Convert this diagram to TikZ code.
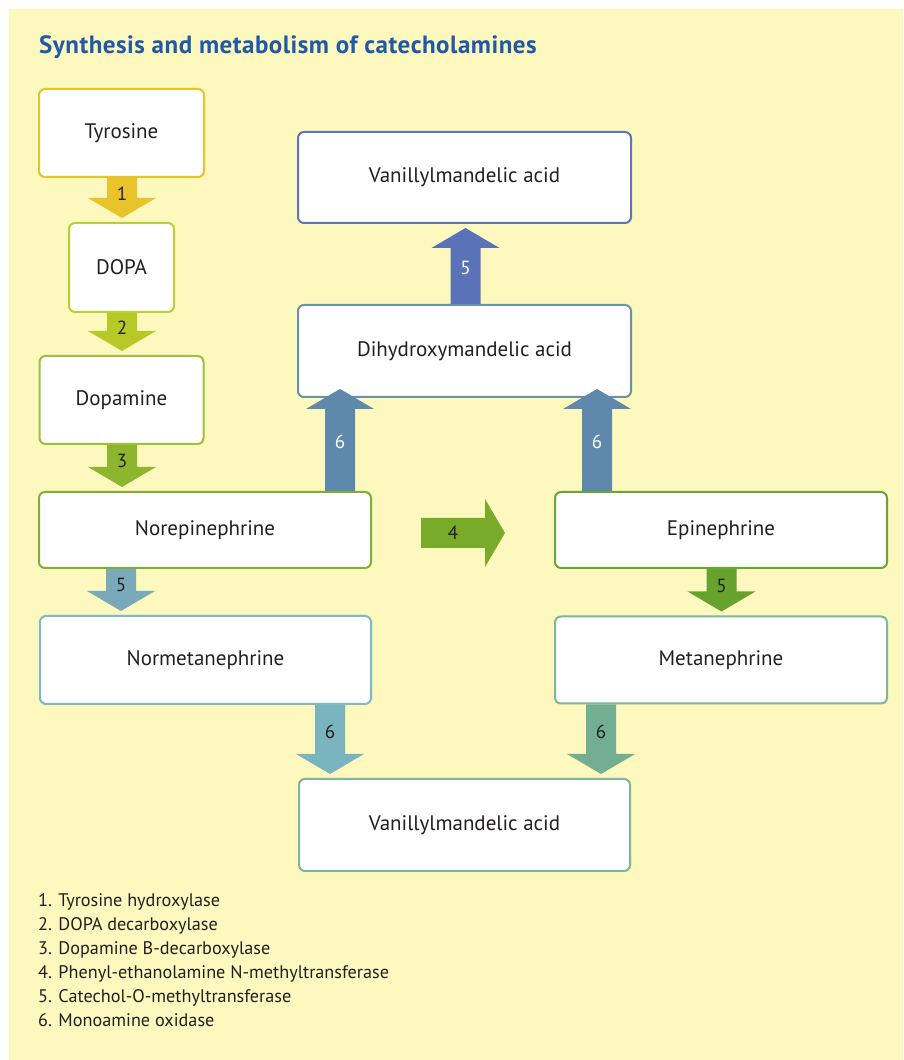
\documentclass[tikz,border=0pt]{standalone}
\usepackage{fontspec}
\setmainfont{PT Sans}
\usetikzlibrary{calc}

\definecolor{paper}{HTML}{FCF8BE}
\definecolor{ink}{HTML}{231F20}
\definecolor{titleblue}{HTML}{2059A8}
\definecolor{tyr}{HTML}{E8C22C}
\definecolor{dopa}{HTML}{BAD032}
\definecolor{dopam}{HTML}{9CC13A}
\definecolor{nor}{HTML}{7FB034}
\definecolor{epi}{HTML}{6BA534}
\definecolor{normeta}{HTML}{7DB9C6}
\definecolor{meta}{HTML}{79B89A}
\definecolor{dhma}{HTML}{6A93A8}
\definecolor{vmatop}{HTML}{5E74BC}
\definecolor{arA}{HTML}{E9C32B}
\definecolor{arB}{HTML}{B6C927}
\definecolor{arC}{HTML}{8DB52E}
\definecolor{arD}{HTML}{7AAA2A}
\definecolor{arE}{HTML}{67A22F}
\definecolor{arF}{HTML}{79A9BA}
\definecolor{arG}{HTML}{7AB4BF}
\definecolor{arH}{HTML}{73AE92}
\definecolor{arI}{HTML}{5E89AC}
\definecolor{arJ}{HTML}{5A72B8}

\tikzset{
  stepbox/.style={draw, line width=2pt, rounded corners=6pt, fill=white,
    minimum width=332pt, minimum height=88pt, inner sep=0pt, text=ink,
    font=\fontsize{21}{24}\selectfont},
  tag/.style={inner sep=0pt, text=ink, font=\fontsize{19}{22}\selectfont},
  legend/.style={inner sep=0pt, text=ink, font=\fontsize{18.2}{24}\selectfont},
}

% block arrow downwards: x, from, to, colour, label
\newcommand{\stepdown}[5]{%
  \path[fill=#4] let \p1=(#2.south), \p2=(#3.north) in
    (#1-15,\y1) -- (#1-15,\y2+24pt) -- (#1-34,\y2+24pt) -- (#1,\y2+4pt)
    -- (#1+34,\y2+24pt) -- (#1+15,\y2+24pt) -- (#1+15,\y1) -- cycle
    ($(#1,\y1)!0.39!(#1,\y2+4pt)$) node[tag] {#5};
}
% block arrow upwards: x, from, to, gap, colour, label
\newcommand{\stepup}[6]{%
  \path[fill=#5] let \p1=(#2.north), \p2=(#3.south) in
    (#1-15,\y1) -- (#1-15,\y2-#4pt-20pt) -- (#1-34,\y2-#4pt-20pt) -- (#1,\y2-#4pt)
    -- (#1+34,\y2-#4pt-20pt) -- (#1+15,\y2-#4pt-20pt) -- (#1+15,\y1) -- cycle
    ($(#1,\y1)!0.48!(#1,\y2-#4pt)$) node[tag, text=white] {#6};
}

\begin{document}
\begin{tikzpicture}[x=1pt, y=1pt]
  \useasboundingbox (0,0) rectangle (903,1060);
  \fill[paper] (9,0) rectangle (903,1051);

  \node[anchor=base west, inner sep=0pt, text=titleblue,
    font=\fontsize{25}{28}\selectfont\bfseries\addfontfeatures{LetterSpace=2}] (Title) at (39,1006)
    {Synthesis and metabolism of catecholamines};

  % synthesis column
  \path (121.5,927) node[stepbox, draw=tyr, minimum width=165pt] (Tyr) {Tyrosine}
    ++ (0,-134.5) node[stepbox, draw=dopa, minimum width=105pt, minimum height=89pt] (Dopa) {DOPA}
    ++ (0,-132.5) node[stepbox, draw=dopam, minimum width=164pt] (Dopam) {Dopamine};

  \path (205,530) node[stepbox, draw=nor, minimum height=76pt] (Nor) {Norepinephrine}
    ++ (516,0) node[stepbox, draw=epi, minimum height=76pt] (Epi) {Epinephrine};
  \path (205.5,400) node[stepbox, draw=normeta, minimum width=331pt] (Normeta) {Normetanephrine}
    ++ (515.5,0) node[stepbox, draw=meta, minimum height=87pt] (Meta) {Metanephrine};

  % metabolites
  \path (464.5,882.5) node[stepbox, draw=vmatop, minimum width=333pt, minimum height=91pt] (VmaTop) {Vanillylmandelic acid}
    ++ (0,-173.5) node[stepbox, draw=dhma, minimum width=333pt, minimum height=92pt] (Dhma) {Dihydroxymandelic acid};
  \node[stepbox, draw=meta, minimum width=331pt, minimum height=92pt] (VmaBot) at (464.5,235) {Vanillylmandelic acid};

  % enzyme steps
  \stepdown{122}{Tyr}{Dopa}{arA}{1}
  \stepdown{122}{Dopa}{Dopam}{arB}{2}
  \stepdown{122}{Dopam}{Nor}{arC}{3}
  \stepdown{121}{Nor}{Normeta}{arF}{5}
  \stepdown{721.5}{Epi}{Meta}{arE}{5}
  \stepdown{330}{Normeta}{VmaBot}{arG}{6}
  \stepdown{601}{Meta}{VmaBot}{arH}{6}
  \stepup{340}{Nor}{Dhma}{-9}{arI}{6}
  \stepup{597}{Epi}{Dhma}{-9}{arI}{6}
  \stepup{465.5}{Dhma}{VmaTop}{4}{arJ}{5}

  \path[fill=arD] let \p1=(Nor.east), \p2=(Epi.west) in
    (\x1+49pt,512) -- (\x2-69pt,512) -- (\x2-69pt,493) -- (\x2-49pt,527)
    -- (\x2-69pt,561) -- (\x2-69pt,542) -- (\x1+49pt,542) -- cycle
    ($(\x1+49pt,527)!0.5!(\x2-69pt,527)$) node[tag] {4};

  % key
  \foreach \i/\txt in {1/Tyrosine hydroxylase, 2/DOPA decarboxylase,
      3/Dopamine B-decarboxylase, 4/Phenyl-ethanolamine N-methyltransferase,
      5/Catechol-O-methyltransferase, 6/Monoamine oxidase}
    \node[legend, anchor=base west] (Key\i) at (38,177-24*\i) {\i. \txt};
\end{tikzpicture}
\end{document}
